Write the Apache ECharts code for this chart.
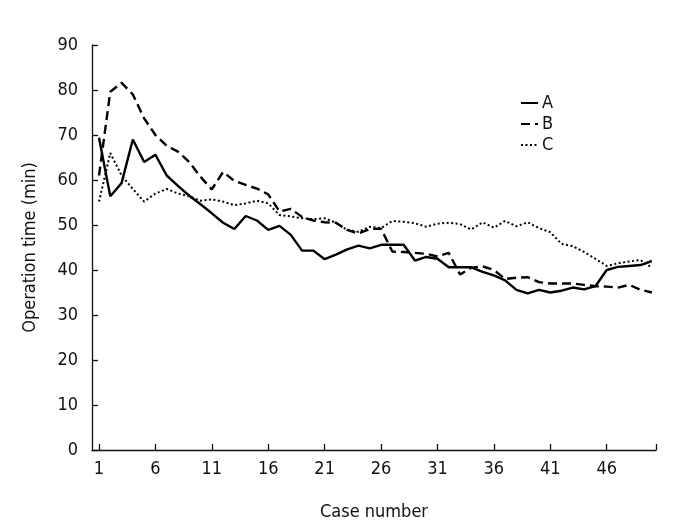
<!DOCTYPE html>
<html>
<head>
<meta charset="utf-8">
<script src="https://cdn.jsdelivr.net/npm/echarts@6/dist/echarts.min.js"></script>
<style>
html,body{margin:0;padding:0;background:#fff;}
#chart{width:689px;height:532px;}
</style>
</head>
<body>
<div id="chart"></div>
<script>
var cases = [];
for (var i = 1; i <= 50; i++) cases.push(i);

var seriesA = [69.4,56.4,59.3,69,64,65.6,61,58.7,56.5,54.6,52.6,50.5,49.1,52,51,48.9,49.8,47.8,44.3,44.3,
  42.4,43.4,44.6,45.4,44.8,45.6,45.6,45.6,42.1,42.9,42.5,40.6,40.6,40.6,39.6,38.8,37.7,35.6,34.8,35.6,
  35,35.4,36.1,35.7,36.4,40,40.7,40.9,41.1,42];
var seriesB = [61,79.6,81.6,79,73.7,70,67.6,66.3,64,60.7,57.9,61.8,59.8,58.9,58.1,56.8,53,53.6,51.8,51,
  50.6,50.5,48.9,48.1,49.1,49.2,44.1,44,43.8,43.6,43,43.8,39,40.5,40.8,40,38,38.3,38.4,37.3,
  37,37,37,36.7,36.4,36.3,36.1,36.7,35.6,35];
var seriesC = [55.2,66,61,58,55.2,57,58,57,56.4,55.4,55.7,55.2,54.4,54.8,55.4,54.8,52.2,51.9,51.5,51.3,
  51.5,50.5,48.9,48.5,49.6,49.3,50.9,50.7,50.4,49.6,50.3,50.5,50.2,49,50.6,49.4,50.9,49.7,50.6,49.3,
  48.4,45.8,45.3,44,42.5,40.9,41.5,41.9,42.2,40.5];
var seriesNames = ['A', 'B', 'C'];
var xTickLabels = [1, 6, 11, 16, 21, 26, 31, 36, 41, 46];

var FONT = '"Liberation Sans Narrow", "DejaVu Sans Condensed", "Roboto Condensed", "Liberation Sans", sans-serif';
var xMin = 0.38, xMax = 50.37;

function pairs(arr) { return cases.map(function (c, i) { return [c, arr[i]]; }); }

var chart = echarts.init(document.getElementById('chart'), null, {renderer: 'canvas'});
chart.setOption({
  animation: false,
  backgroundColor: '#fff',
  grid: {left: 92, right: 33, top: 45, bottom: 82, containLabel: false},
  legend: {
    orient: 'vertical', left: 515, top: 89,
    itemWidth: 17, itemHeight: 10, itemGap: 3,
    itemStyle: {opacity: 0},
    textStyle: {fontFamily: FONT, fontSize: 18, color: '#111', padding: [0, 0, 0, -1]},
    data: seriesNames
  },
  xAxis: {
    type: 'value', min: xMin, max: xMax,
    name: 'Case number', nameLocation: 'middle', nameGap: 53,
    nameTextStyle: {fontFamily: FONT, fontSize: 18, color: '#111'},
    axisLine: {lineStyle: {color: '#111', width: 1.3}},
    axisTick: {inside: true, length: 6, lineStyle: {color: '#111', width: 1.3},
      customValues: xTickLabels.concat([xMax])},
    axisLabel: {fontFamily: FONT, fontSize: 18, color: '#111', margin: 10,
      customValues: xTickLabels},
    splitLine: {show: false}
  },
  yAxis: {
    type: 'value', min: 0, max: 90, interval: 10,
    name: 'Operation time (min)', nameLocation: 'middle', nameGap: 53,
    nameTextStyle: {fontFamily: FONT, fontSize: 18, color: '#111'},
    axisLine: {show: true, lineStyle: {color: '#111', width: 1.3}},
    axisTick: {show: true, inside: true, length: 6, lineStyle: {color: '#111', width: 1.3}},
    axisLabel: {fontFamily: FONT, fontSize: 18, color: '#111', margin: 14},
    splitLine: {show: false}
  },
  series: [
    {name: seriesNames[0], type: 'line', data: pairs(seriesA), symbol: 'none',
      lineStyle: {color: '#000', width: 2.4, type: 'solid'}, itemStyle: {color: '#000'}},
    {name: seriesNames[1], type: 'line', data: pairs(seriesB), symbol: 'none',
      lineStyle: {color: '#000', width: 2.4, type: [9, 5]}, itemStyle: {color: '#000'}},
    {name: seriesNames[2], type: 'line', data: pairs(seriesC), symbol: 'none',
      lineStyle: {color: '#000', width: 2, type: [2, 2.5]}, itemStyle: {color: '#000'}}
  ]
});
</script>
</body>
</html>
